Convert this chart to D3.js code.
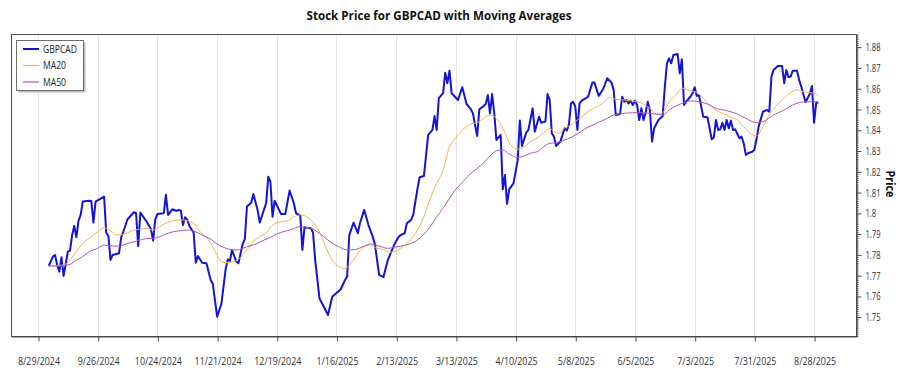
<!DOCTYPE html>
<html><head><meta charset="utf-8">
<script src="https://cdn.jsdelivr.net/npm/d3@7"></script>
<style>body{margin:0;background:#fff;}svg{display:block;}</style>
</head><body>
<svg id="chart" width="900" height="375"></svg>
<script>
// ---------- DATA ----------
const dates = ["2024-09-03","2024-09-05","2024-09-06","2024-09-07","2024-09-08","2024-09-09","2024-09-10","2024-09-12","2024-09-13","2024-09-14",
"2024-09-15","2024-09-16","2024-09-17","2024-09-18","2024-09-19","2024-09-22","2024-09-23","2024-09-24","2024-09-25","2024-09-29",
"2024-09-30","2024-10-01","2024-10-02","2024-10-03","2024-10-06","2024-10-07","2024-10-08","2024-10-10","2024-10-13","2024-10-14",
"2024-10-15","2024-10-16","2024-10-19","2024-10-21","2024-10-22","2024-10-23","2024-10-24","2024-10-27","2024-10-28","2024-10-29",
"2024-10-31","2024-11-02","2024-11-03","2024-11-04","2024-11-05","2024-11-06","2024-11-07","2024-11-08","2024-11-10","2024-11-11",
"2024-11-12","2024-11-14","2024-11-16","2024-11-18","2024-11-19","2024-11-21","2024-11-23","2024-11-25","2024-11-26","2024-11-27",
"2024-11-28","2024-11-30","2024-12-01","2024-12-03","2024-12-04","2024-12-05","2024-12-07","2024-12-08","2024-12-10","2024-12-11",
"2024-12-14","2024-12-15","2024-12-16","2024-12-17","2024-12-18","2024-12-21","2024-12-23","2024-12-25","2024-12-27","2024-12-28",
"2024-12-30","2024-12-31","2025-01-01","2025-01-04","2025-01-05","2025-01-06","2025-01-08","2025-01-12","2025-01-14","2025-01-18",
"2025-01-20","2025-01-21","2025-01-22","2025-01-24","2025-01-26","2025-01-27","2025-01-29","2025-01-31","2025-02-02","2025-02-03",
"2025-02-05","2025-02-07","2025-02-09","2025-02-11","2025-02-12","2025-02-14","2025-02-15","2025-02-17","2025-02-18","2025-02-20",
"2025-02-21","2025-02-23","2025-02-24","2025-02-26","2025-02-28","2025-03-02","2025-03-03","2025-03-04","2025-03-05","2025-03-07",
"2025-03-08","2025-03-09","2025-03-10","2025-03-11","2025-03-14","2025-03-16","2025-03-18","2025-03-20","2025-03-21","2025-03-22",
"2025-03-23","2025-03-24","2025-03-26","2025-03-27","2025-03-28","2025-03-29","2025-03-30","2025-03-31","2025-04-01","2025-04-03",
"2025-04-04","2025-04-05","2025-04-06","2025-04-07","2025-04-09","2025-04-11","2025-04-12","2025-04-13","2025-04-15","2025-04-16",
"2025-04-18","2025-04-19","2025-04-21","2025-04-22","2025-04-24","2025-04-25","2025-04-26","2025-04-27","2025-04-28","2025-04-29",
"2025-05-01","2025-05-03","2025-05-04","2025-05-05","2025-05-06","2025-05-07","2025-05-08","2025-05-09","2025-05-10","2025-05-11",
"2025-05-13","2025-05-14","2025-05-16","2025-05-17","2025-05-18","2025-05-19","2025-05-21","2025-05-23","2025-05-25","2025-05-26",
"2025-05-27","2025-05-29","2025-05-30","2025-05-31","2025-06-01","2025-06-02","2025-06-03","2025-06-04","2025-06-05","2025-06-06",
"2025-06-07","2025-06-08","2025-06-09","2025-06-10","2025-06-11","2025-06-12","2025-06-13","2025-06-14","2025-06-16","2025-06-18",
"2025-06-19","2025-06-20","2025-06-21","2025-06-22","2025-06-23","2025-06-25","2025-06-26","2025-06-27","2025-06-28","2025-06-29",
"2025-07-01","2025-07-02","2025-07-03","2025-07-04","2025-07-05","2025-07-07","2025-07-09","2025-07-10","2025-07-11","2025-07-12",
"2025-07-13","2025-07-14","2025-07-15","2025-07-16","2025-07-17","2025-07-18","2025-07-19","2025-07-20","2025-07-21","2025-07-22",
"2025-07-24","2025-07-25","2025-07-26","2025-07-27","2025-07-28","2025-07-30","2025-07-31","2025-08-01","2025-08-02","2025-08-04",
"2025-08-06","2025-08-07","2025-08-08","2025-08-09","2025-08-11","2025-08-13","2025-08-14","2025-08-15","2025-08-16","2025-08-17",
"2025-08-18","2025-08-20","2025-08-21","2025-08-22","2025-08-24","2025-08-26","2025-08-27","2025-08-28","2025-08-29","2025-08-30"];

const gbpcad = [1.7744,1.7789,1.7797,1.7749,1.7717,1.7786,1.7696,1.7813,1.7818,1.7893,
1.7937,1.7882,1.7962,1.7990,1.8054,1.8058,1.8057,1.7953,1.8054,1.8078,
1.7904,1.7889,1.7773,1.7797,1.7805,1.7882,1.7909,1.7969,1.8003,1.7998,
1.7840,1.8001,1.7957,1.7921,1.7866,1.7969,1.7994,1.7998,1.8087,1.7990,
1.8017,1.8009,1.8014,1.8010,1.7941,1.7979,1.7966,1.7937,1.7904,1.7760,
1.7792,1.7760,1.7757,1.7677,1.7657,1.7500,1.7561,1.7728,1.7776,1.7768,
1.7821,1.7765,1.7757,1.7850,1.7873,1.8030,1.8049,1.8091,1.8014,1.7953,
1.8046,1.8174,1.8150,1.7981,1.8058,1.7994,1.7994,1.8107,1.8046,1.7998,
1.7988,1.7821,1.7930,1.7926,1.7904,1.7773,1.7589,1.7508,1.7596,1.7632,
1.7677,1.7693,1.7893,1.7953,1.7902,1.7950,1.8014,1.7941,1.7885,1.7850,
1.7701,1.7690,1.7770,1.7821,1.7845,1.7882,1.7892,1.7902,1.7950,1.7966,
1.7990,1.8118,1.8171,1.8177,1.8375,1.8399,1.8466,1.8399,1.8552,1.8576,
1.8675,1.8624,1.8684,1.8576,1.8543,1.8605,1.8524,1.8499,1.8479,1.8423,
1.8370,1.8499,1.8514,1.8524,1.8567,1.8479,1.8572,1.8479,1.8351,1.8375,
1.8113,1.8182,1.8043,1.8113,1.8142,1.8254,1.8444,1.8322,1.8386,1.8399,
1.8503,1.8391,1.8463,1.8434,1.8439,1.8572,1.8543,1.8383,1.8367,1.8322,
1.8343,1.8407,1.8396,1.8423,1.8527,1.8534,1.8511,1.8399,1.8527,1.8540,
1.8552,1.8559,1.8627,1.8627,1.8595,1.8563,1.8595,1.8648,1.8627,1.8592,
1.8471,1.8476,1.8559,1.8535,1.8543,1.8527,1.8540,1.8519,1.8540,1.8519,
1.8447,1.8503,1.8447,1.8482,1.8535,1.8495,1.8343,1.8407,1.8447,1.8466,
1.8607,1.8720,1.8744,1.8720,1.8760,1.8765,1.8672,1.8739,1.8519,1.8535,
1.8559,1.8576,1.8605,1.8563,1.8567,1.8463,1.8460,1.8407,1.8354,1.8364,
1.8447,1.8399,1.8402,1.8434,1.8399,1.8447,1.8407,1.8444,1.8399,1.8402,
1.8359,1.8367,1.8335,1.8279,1.8287,1.8294,1.8303,1.8354,1.8415,1.8487,
1.8495,1.8487,1.8656,1.8688,1.8707,1.8707,1.8624,1.8688,1.8653,1.8656,
1.8684,1.8684,1.8640,1.8607,1.8534,1.8572,1.8611,1.8434,1.8530,1.8530];

const ma20Dates = ["2024-09-03","2024-09-10","2024-09-13","2024-09-16","2024-09-19","2024-09-22","2024-09-26","2024-09-29","2024-10-02","2024-10-04",
"2024-10-06","2024-10-10","2024-10-13","2024-10-16","2024-10-19","2024-10-22","2024-10-25","2024-10-28","2024-10-31","2024-11-04",
"2024-11-07","2024-11-10","2024-11-13","2024-11-16","2024-11-18","2024-11-21","2024-11-23","2024-11-25","2024-11-29","2024-12-02",
"2024-12-05","2024-12-08","2024-12-11","2024-12-14","2024-12-17","2024-12-21","2024-12-24","2024-12-27","2024-12-30","2025-01-04",
"2025-01-07","2025-01-10","2025-01-13","2025-01-16","2025-01-20","2025-01-24","2025-01-28","2025-02-01","2025-02-04","2025-02-07",
"2025-02-10","2025-02-13","2025-02-16","2025-02-19","2025-02-23","2025-02-26","2025-03-01","2025-03-04","2025-03-07","2025-03-10",
"2025-03-13","2025-03-17","2025-03-20","2025-03-23","2025-03-26","2025-03-29","2025-04-01","2025-04-04","2025-04-07","2025-04-11",
"2025-04-14","2025-04-17","2025-04-20","2025-04-23","2025-04-26","2025-04-28","2025-05-01","2025-05-02","2025-05-06","2025-05-09",
"2025-05-12","2025-05-15","2025-05-18","2025-05-21","2025-05-24","2025-05-27","2025-05-31","2025-06-03","2025-06-06","2025-06-09",
"2025-06-12","2025-06-15","2025-06-18","2025-06-21","2025-06-25","2025-06-27","2025-07-01","2025-07-04","2025-07-07","2025-07-10",
"2025-07-13","2025-07-16","2025-07-20","2025-07-23","2025-07-26","2025-07-29","2025-08-01","2025-08-04","2025-08-07","2025-08-10",
"2025-08-14","2025-08-17","2025-08-20","2025-08-23","2025-08-26","2025-08-29","2025-08-30"];
const ma20 = [1.7744,1.7749,1.7773,1.7813,1.7853,1.7877,1.7909,1.7928,1.7914,1.7898,
1.7893,1.7904,1.7917,1.7921,1.7926,1.7917,1.7933,1.7950,1.7961,1.7966,
1.7962,1.7950,1.7909,1.7882,1.7853,1.7797,1.7765,1.7760,1.7765,1.7786,
1.7821,1.7861,1.7885,1.7904,1.7941,1.7957,1.7962,1.7981,1.7990,1.7966,
1.7926,1.7861,1.7789,1.7749,1.7733,1.7773,1.7829,1.7845,1.7829,1.7824,
1.7810,1.7816,1.7837,1.7861,1.7917,1.7981,1.8070,1.8142,1.8206,1.8318,
1.8364,1.8407,1.8428,1.8434,1.8455,1.8471,1.8455,1.8407,1.8338,1.8306,
1.8318,1.8343,1.8359,1.8383,1.8405,1.8391,1.8383,1.8399,1.8423,1.8447,
1.8471,1.8495,1.8511,1.8527,1.8556,1.8547,1.8543,1.8540,1.8535,1.8524,
1.8503,1.8476,1.8482,1.8535,1.8576,1.8600,1.8588,1.8579,1.8552,1.8519,
1.8495,1.8479,1.8460,1.8447,1.8415,1.8383,1.8370,1.8412,1.8471,1.8511,
1.8552,1.8579,1.8592,1.8583,1.8579,1.8572,1.8563];

const ma50Dates = ["2024-09-03","2024-09-08","2024-09-13","2024-09-16","2024-09-19","2024-09-22","2024-09-26","2024-09-29","2024-10-03","2024-10-06",
"2024-10-10","2024-10-13","2024-10-16","2024-10-19","2024-10-22","2024-10-25","2024-10-28","2024-10-31","2024-11-04","2024-11-07",
"2024-11-11","2024-11-14","2024-11-18","2024-11-21","2024-11-24","2024-11-27","2024-11-30","2024-12-03","2024-12-06","2024-12-10",
"2024-12-13","2024-12-16","2024-12-19","2024-12-22","2024-12-25","2024-12-30","2025-01-04","2025-01-07","2025-01-10","2025-01-13",
"2025-01-17","2025-01-21","2025-01-25","2025-01-29","2025-02-01","2025-02-05","2025-02-09","2025-02-12","2025-02-15","2025-02-19",
"2025-02-23","2025-02-26","2025-03-01","2025-03-04","2025-03-07","2025-03-10","2025-03-13","2025-03-17","2025-03-20","2025-03-23",
"2025-03-26","2025-03-29","2025-04-01","2025-04-04","2025-04-07","2025-04-11","2025-04-14","2025-04-17","2025-04-20","2025-04-23",
"2025-04-26","2025-04-29","2025-05-04","2025-05-09","2025-05-13","2025-05-18","2025-05-23","2025-05-26","2025-05-31","2025-06-04",
"2025-06-09","2025-06-14","2025-06-18","2025-06-21","2025-06-25","2025-06-28","2025-07-01","2025-07-05","2025-07-09","2025-07-13",
"2025-07-18","2025-07-23","2025-07-27","2025-08-01","2025-08-04","2025-08-09","2025-08-14","2025-08-18","2025-08-23","2025-08-28",
"2025-08-30"];
const ma50 = [1.7744,1.7744,1.7752,1.7773,1.7789,1.7813,1.7829,1.7845,1.7840,1.7840,
1.7853,1.7861,1.7869,1.7876,1.7877,1.7885,1.7898,1.7908,1.7914,1.7917,
1.7909,1.7893,1.7873,1.7850,1.7834,1.7824,1.7821,1.7829,1.7840,1.7853,
1.7869,1.7882,1.7898,1.7909,1.7917,1.7933,1.7926,1.7909,1.7885,1.7861,
1.7837,1.7821,1.7824,1.7840,1.7850,1.7840,1.7829,1.7834,1.7840,1.7849,
1.7869,1.7898,1.7933,1.7981,1.8022,1.8070,1.8113,1.8158,1.8190,1.8214,
1.8241,1.8274,1.8299,1.8303,1.8283,1.8267,1.8274,1.8287,1.8294,1.8316,
1.8335,1.8338,1.8354,1.8380,1.8407,1.8431,1.8455,1.8471,1.8479,1.8482,
1.8482,1.8476,1.8471,1.8495,1.8519,1.8530,1.8539,1.8535,1.8524,1.8503,
1.8492,1.8476,1.8455,1.8434,1.8439,1.8471,1.8495,1.8519,1.8534,1.8535,
1.8534];

const xTickLabels = ["8/29/2024","9/26/2024","10/24/2024","11/21/2024","12/19/2024","1/16/2025","2/13/2025",
"3/13/2025","4/10/2025","5/8/2025","6/5/2025","7/3/2025","7/31/2025","8/28/2025"];
const yTickLabels = ["1.75","1.76","1.77","1.78","1.79","1.8","1.81","1.82","1.83","1.84","1.85","1.86","1.87","1.88"];
const xDomain = ["2024-08-16T08:00","2025-09-16T16:00"];
const yDomain = [1.7407, 1.8861];
const seriesNames = ["GBPCAD","MA20","MA50"];
const seriesColors = ["#1414d2","#f5b347","#a45cb4"];

// ---------- CHART ----------
(function () {
const svg = d3.select("#chart");
const PL = 11, PR = 856, PT = 34, PB = 336;
const pDay = d3.timeParse("%Y-%m-%d");
const pIso = d3.timeParse("%Y-%m-%dT%H:%M");
const pTick = d3.timeParse("%m/%d/%Y");

const x = d3.scaleTime().domain(xDomain.map(pIso)).range([PL, PR]);
const y = d3.scaleLinear().domain(yDomain).range([PB, PT]);

const FONT = "'Open Sans','Noto Sans',sans-serif";

// squeeze texts horizontally so that a reference text gets a target width
function squeeze(sel, refWidth, refNode) {
  const nodes = sel.nodes();
  if (!nodes.length) return;
  const base = (refNode || nodes[0]).getComputedTextLength();
  const k = refWidth / base;
  nodes.forEach(n => {
    const w = n.getComputedTextLength();
    d3.select(n).attr("textLength", w * k).attr("lengthAdjust", "spacingAndGlyphs");
  });
}

const tickDates = xTickLabels.map(pTick);

// grid
svg.append("g").selectAll("line").data(tickDates).join("line")
  .attr("x1", d => Math.round(x(d)) + 0.5).attr("x2", d => Math.round(x(d)) + 0.5)
  .attr("y1", PT).attr("y2", PB)
  .attr("stroke", "#e4e4e4").attr("stroke-width", 1);

// frame
svg.append("rect").attr("x", PL + 0.5).attr("y", PT + 0.5)
  .attr("width", PR - PL).attr("height", PB - PT)
  .attr("fill", "none").attr("stroke", "#4a4a4a").attr("stroke-width", 1);

// x axis
const xAxis = svg.append("g").attr("transform", `translate(0.5,${PB + 0.5})`)
  .call(d3.axisBottom(x).tickValues(tickDates).tickFormat((d, i) => xTickLabels[i]).tickSize(5).tickPadding(16).tickSizeOuter(0));
xAxis.select(".domain").attr("stroke", "#4a4a4a");
xAxis.selectAll(".tick line").attr("stroke", "#4a4a4a");
xAxis.selectAll("text").attr("font-family", FONT).attr("font-size", 11).attr("fill", "#333");
squeeze(xAxis.selectAll("text"), 42);

// y axis minor ticks
const minor = d3.range(1741, 1887).map(v => v / 1000);
const yMinor = svg.append("g").attr("transform", `translate(${PR + 0.5},0.5)`)
  .call(d3.axisRight(y).tickValues(minor).tickSize(2).tickFormat("").tickSizeOuter(0));
yMinor.select(".domain").remove();
yMinor.selectAll(".tick line").attr("stroke", "#555");

// y axis major
const yAxis = svg.append("g").attr("transform", `translate(${PR + 0.5},0.5)`)
  .call(d3.axisRight(y).tickValues(yTickLabels.map(Number)).tickFormat((d, i) => yTickLabels[i]).tickSize(5).tickPadding(4).tickSizeOuter(0));
yAxis.select(".domain").attr("stroke", "#4a4a4a");
yAxis.selectAll(".tick line").attr("stroke", "#4a4a4a");
yAxis.selectAll("text").attr("font-family", FONT).attr("font-size", 11).attr("fill", "#333");
squeeze(yAxis.selectAll("text"), 15, yAxis.selectAll("text").nodes()[13]);

// y label
const yl = svg.append("text").attr("transform", "translate(886,184) rotate(90)")
  .attr("text-anchor", "middle").attr("font-family", FONT).attr("font-weight", "bold")
  .attr("font-size", 12.5).attr("fill", "#111").text("Price");
squeeze(yl, 27);

// title
const tt = svg.append("text").attr("x", 439).attr("y", 20).attr("text-anchor", "middle")
  .attr("font-family", FONT).attr("font-weight", "bold").attr("font-size", 13).attr("fill", "#111")
  .text("Stock Price for GBPCAD with Moving Averages");
squeeze(tt, 265);

// lines
const priceData = dates.map((d, i) => ({ date: pDay(d), v: gbpcad[i] }));
const ma20Data = ma20Dates.map((d, i) => ({ date: pDay(d), v: ma20[i] }));
const ma50Data = ma50Dates.map((d, i) => ({ date: pDay(d), v: ma50[i] }));

const lineLin = d3.line().x(d => x(d.date)).y(d => y(d.v));
const lineSm = d3.line().x(d => x(d.date)).y(d => y(d.v)).curve(d3.curveMonotoneX);

const plot = svg.append("g");
plot.append("path").datum(priceData).attr("d", lineLin).attr("fill", "none")
  .attr("stroke", seriesColors[0]).attr("stroke-width", 2).attr("stroke-linejoin", "round");
plot.append("path").datum(ma20Data).attr("d", lineSm).attr("fill", "none")
  .attr("stroke", seriesColors[1]).attr("stroke-width", 1);
plot.append("path").datum(ma50Data).attr("d", lineSm).attr("fill", "none")
  .attr("stroke", seriesColors[2]).attr("stroke-width", 1);

// legend
const lg = svg.append("g");
lg.append("rect").attr("x", 18.5).attr("y", 42.5).attr("width", 67).attr("height", 50).attr("fill", "#bdbdbd");
lg.append("rect").attr("x", 16.5).attr("y", 40.5).attr("width", 67).attr("height", 50)
  .attr("fill", "#fff").attr("stroke", "#6e6e6e").attr("stroke-width", 1);
seriesNames.forEach((name, i) => {
  const yy = 49 + i * 16.5;
  lg.append("line").attr("x1", 23).attr("x2", 39).attr("y1", yy).attr("y2", yy)
    .attr("stroke", seriesColors[i]).attr("stroke-width", i === 0 ? 2 : 1.2);
  lg.append("text").attr("class", "lgt").attr("x", 43).attr("y", yy + 3.8).attr("font-family", FONT)
    .attr("font-size", 10.5).attr("fill", "#222").text(name);
});
squeeze(lg.selectAll("text.lgt"), 34);
})();
</script>
</body></html>
